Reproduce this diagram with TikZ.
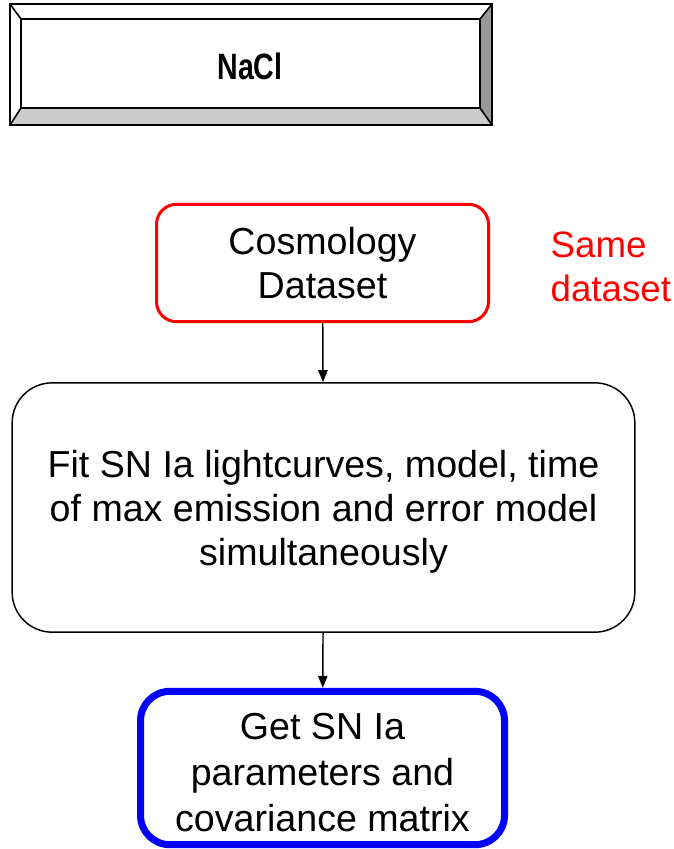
\documentclass[tikz,border=0pt]{standalone}
\usepackage{fontspec}
\setmainfont{Liberation Sans}
\newfontfamily\narrowfont[FakeStretch=0.78]{Liberation Sans}
\usetikzlibrary{arrows.meta}

\newcommand{\firstline}{\rule{0pt}{27pt}}

\tikzset{
  flowbox/.style={draw, rounded corners=#1, align=center, inner sep=0pt,
    font=\fontsize{28.2}{33}\selectfont},
  flowarrow/.style={draw, line width=1.1pt, -{Triangle[length=9pt,width=7pt]}}
}

\begin{document}
\begin{tikzpicture}[x=0.75pt, y=-0.75pt]

\useasboundingbox (0,0) rectangle (674,849);

% bevelled title box
\coordinate (o1) at (10,4);
\coordinate (o2) at (492,4);
\coordinate (o3) at (492,125);
\coordinate (o4) at (10,125);
\coordinate (i1) at (21,19);
\coordinate (i2) at (480,19);
\coordinate (i3) at (480,108);
\coordinate (i4) at (21,108);

\fill[black!20] (o4) -- (i4) -- (i3) -- (o3) -- cycle;
\fill[black!40] (o2) -- (i2) -- (i3) -- (o3) -- cycle;
\draw[line width=1.5pt] (o1) rectangle (o3);
\draw[line width=1.2pt] (i1) rectangle (i3);
\foreach \i in {1,2,3,4}
    \draw[line width=1.2pt] (o\i) -- (i\i);

\node (nacl) at (250,66) {\narrowfont\bfseries\fontsize{27.5}{30}\selectfont NaCl};

% flow
\node[flowbox=15pt, draw=red, line width=2.25pt, minimum width=249pt, minimum height=88pt]
  (data) at (322.5,263) {Cosmology\\Dataset};

\node[anchor=west, text=red, align=left, font=\fontsize{27.5}{33}\selectfont]
  (same) at (546,267) {Same\\dataset};

\node[flowbox=30pt, line width=1.1pt, minimum width=467pt, minimum height=187pt]
  (fit) at (323.5,507.5) {\firstline Fit SN Ia lightcurves, model, time\\of max emission and error model\\simultaneously};

\node[flowbox=22pt, draw=blue, line width=5.25pt, minimum width=273pt, minimum height=115pt]
  (get) at (322.5,768) {\firstline Get SN Ia\\[1.5pt]parameters and\\[1.5pt]covariance matrix};

\draw[flowarrow] (data) -- (fit);
\draw[flowarrow] (fit) -- (get);

\end{tikzpicture}
\end{document}
